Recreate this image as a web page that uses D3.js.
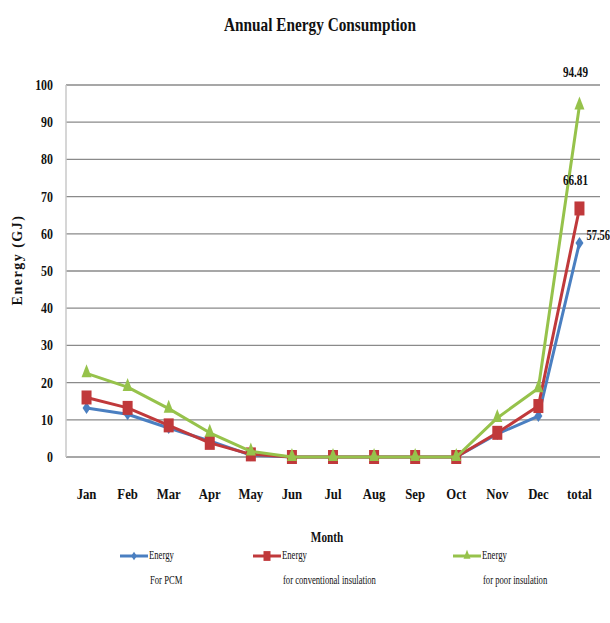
<!DOCTYPE html>
<html><head><meta charset="utf-8">
<script src="https://cdn.jsdelivr.net/npm/d3@7"></script>
<style>body{margin:0;background:#fff}svg{display:block}</style>
</head><body><svg id="c" width="610" height="623"></svg>
<script>
const months = ["Jan","Feb","Mar","Apr","May","Jun","Jul","Aug","Sep","Oct","Nov","Dec","total"];
const pcm = [13.2, 11.5, 7.8, 4.3, 0.5, 0, 0, 0, 0, 0, 6.2, 11.0, 57.56];
const conventional = [16.0, 13.2, 8.5, 3.8, 0.7, 0, 0, 0, 0, 0, 6.5, 13.7, 66.81];
const poor = [22.5, 18.8, 13.0, 6.5, 1.5, 0, 0, 0, 0, 0, 10.5, 18.5, 94.49];
const yTicks = [0,10,20,30,40,50,60,70,80,90,100];
const seriesNames = ["Energy", "Energy", "Energy"];
const seriesSub = ["For PCM", "for conventional insulation", "for poor insulation"];
const labels = ["57.56", "66.81", "94.49"];

const svg = d3.select("#c");
const FONT = "'Liberation Serif','Times New Roman',serif";
const x = d3.scaleBand().domain(months).range([66, 600]);
const y = d3.scaleLinear().domain([0, 100]).range([457, 85]);

function txt(g, s, px, py, opt) {
  opt = opt || {};
  const t = g.append("text")
    .attr("transform", `translate(${px},${py}) rotate(${opt.rot||0}) scale(${opt.sx||0.85},1)`)
    .attr("font-family", FONT).attr("font-size", opt.size||14)
    .attr("font-weight", opt.weight||"bold")
    .attr("fill", opt.fill||"#111")
    .attr("text-anchor", opt.anchor||"middle")
    .attr("letter-spacing", opt.ls||0)
    .text(s);
  return t;
}

// grid
svg.append("g").selectAll("line").data(yTicks).join("line")
  .attr("x1", 66).attr("x2", 600).attr("y1", d=>y(d)).attr("y2", d=>y(d))
  .attr("stroke", "#8a8a8a").attr("stroke-width", 1.3);
svg.append("line").attr("x1",66).attr("x2",66).attr("y1",y(100)).attr("y2",y(0))
  .attr("stroke","#c8c8c8").attr("stroke-width",1.5);

// y tick labels
yTicks.forEach(d => txt(svg, d, 53, y(d)+5, {anchor:"end", size:14}));
// x tick labels
months.forEach(m => txt(svg, m, x(m)+x.bandwidth()/2, 499, {size:15}));

// titles
txt(svg, "Annual Energy Consumption", 320, 31, {size:18, weight:"bold", sx:0.85});
txt(svg, "Month", 327, 542, {size:14, sx:0.8});
txt(svg, "Energy (GJ)", 22, 260, {size:14, rot:-90, sx:1, ls:1.5});

const colors = ["#4a7fc1", "#c0393b", "#96c24b"];
const data = [pcm, conventional, poor];
const line = d3.line().x((d,i)=>x(months[i])+x.bandwidth()/2).y(d=>y(d));

function marker(g, k, cx, cy, s) {
  s = s||1;
  if (k===0) {
    g.append("path").attr("d", `M${cx},${cy-6*s}L${cx+4*s},${cy}L${cx},${cy+6*s}L${cx-4*s},${cy}Z`).attr("fill", colors[0]);
  } else if (k===1) {
    g.append("rect").attr("x", cx-5*s).attr("y", cy-7*s).attr("width",10*s).attr("height",14*s).attr("fill", colors[1]);
  } else {
    g.append("path").attr("d", `M${cx},${cy-9*s}L${cx+5*s},${cy+4*s}L${cx-5*s},${cy+4*s}Z`).attr("fill", colors[2]);
  }
}

data.forEach((vals, k) => {
  const g = svg.append("g");
  g.append("path").datum(vals).attr("d", line).attr("fill","none")
    .attr("stroke", colors[k]).attr("stroke-width", 3).attr("stroke-linejoin","round");
  vals.forEach((v,i) => marker(g, k, x(months[i])+x.bandwidth()/2, y(v)));
});

// data labels on total
const tx = x("total")+x.bandwidth()/2;
txt(svg, labels[0], tx+7, y(pcm[12])-3, {size:14, anchor:"start", sx:0.75});
txt(svg, labels[1], tx-4, y(conventional[12])-23, {size:14, sx:0.8});
txt(svg, labels[2], tx-4, y(poor[12])-28, {size:14, sx:0.8});

// legend
const legX = [120, 253, 453];
data.forEach((v,k) => {
  const g = svg.append("g");
  g.append("line").attr("x1", legX[k]).attr("x2", legX[k]+28).attr("y1", 556).attr("y2", 556)
    .attr("stroke", colors[k]).attr("stroke-width", 3);
  marker(g, k, legX[k]+14, 556, 0.7);
  txt(svg, seriesNames[k], legX[k]+29, 559, {anchor:"start", size:12, weight:"normal", sx:0.72});
  txt(svg, seriesSub[k], legX[k]+30, 584, {anchor:"start", size:12, weight:"normal", sx:0.72});
});
</script></body></html>
